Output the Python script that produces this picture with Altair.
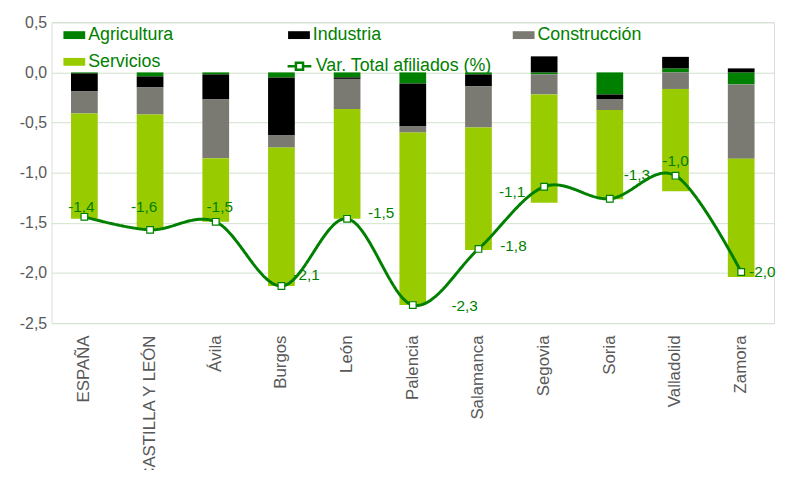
import altair as alt
import pandas as pd

categorias = ["ESPAÑA", "CASTILLA Y LEÓN", "Ávila", "Burgos", "León", "Palencia",
              "Salamanca", "Segovia", "Soria", "Valladolid", "Zamora"]
agricultura = [-0.01, -0.04, -0.02, -0.05, -0.05, -0.11, -0.02, -0.02, -0.22, 0.04, -0.12]
industria = [-0.18, -0.11, -0.25, -0.58, -0.015, -0.43, -0.12, 0.16, -0.045, 0.115, 0.04]
construccion = [-0.22, -0.27, -0.585, -0.12, -0.30, -0.06, -0.41, -0.20, -0.11, -0.165, -0.74]
servicios = [-1.05, -1.15, -0.635, -1.38, -1.095, -1.72, -1.22, -1.08, -0.89, -1.02, -1.18]
total = [-1.44, -1.57, -1.49, -2.13, -1.46, -2.32, -1.76, -1.14, -1.26, -1.03, -1.99]

sectores = ["Agricultura", "Industria", "Construcción", "Servicios"]
colores = ["#008000", "#000000", "#7A7A72", "#99CC00"]
serie_total = "Var. Total afiliados (%)"

rows = []
for i, c in enumerate(categorias):
    for k, (s, vals) in enumerate(zip(sectores, [agricultura, industria, construccion, servicios])):
        rows.append({"categoria": c, "sector": s, "orden": k, "valor": vals[i]})
df_bars = pd.DataFrame(rows)
df_line = pd.DataFrame({"categoria": categorias, "total": total, "serie": serie_total})

FONT = "Liberation Sans"
GREEN = "#008000"

x_enc = alt.X("categoria:N", sort=categorias, title=None,
              scale=alt.Scale(paddingInner=0, paddingOuter=0),
              axis=alt.Axis(labelAngle=-90, labelFontSize=17, labelColor="#595959",
                            labelFont=FONT, ticks=False, domain=False, labelPadding=12,
                            grid=False))
y_scale = alt.Scale(domain=[-2.5, 0.5], nice=False, zero=False)

bars = alt.Chart(df_bars).mark_bar(size=27).encode(
    x=x_enc,
    y=alt.Y("valor:Q", stack="zero", scale=y_scale, title=None,
            axis=alt.Axis(values=[0.5, 0, -0.5, -1, -1.5, -2, -2.5],
                          labelExpr="(datum.value < 0 ? '-' : '') + replace(format(abs(datum.value), '.1f'), '.', ',')",
                          labelFontSize=16, labelColor="#595959", labelFont=FONT,
                          ticks=False, domain=False, labelPadding=5,
                          gridColor="#CFE3CB", gridWidth=1)),
    color=alt.Color("sector:N",
                    scale=alt.Scale(domain=sectores, range=colores),
                    legend=alt.Legend(title=None, orient="none", legendX=12, legendY=2,
                                      direction="horizontal",
                                      columns=3, gridAlign="all", columnPadding=96,
                                      rowPadding=7,
                                      symbolType="M-1,-0.36L1,-0.36L1,0.36L-1,0.36Z",
                                      symbolSize=484, symbolStrokeWidth=0,
                                      labelFontSize=18, labelColor=GREEN, labelFont=FONT,
                                      labelOffset=3, labelLimit=400, padding=0)),
    order=alt.Order("orden:Q", sort="ascending"),
)

line = alt.Chart(df_line).mark_line(color=GREEN, strokeWidth=3, interpolate="cardinal").encode(
    x=alt.X("categoria:N", sort=categorias),
    y=alt.Y("total:Q", scale=y_scale),
    strokeDash=alt.StrokeDash("serie:N", scale=alt.Scale(domain=[serie_total], range=[[1, 0]]),
                              legend=alt.Legend(title=None, orient="none", legendX=237, legendY=31,
                                                symbolType="M-1,0L-0.32,0M0.32,0L1,0M-0.3,-0.3L0.3,-0.3L0.3,0.3L-0.3,0.3Z",
                                                symbolSize=576, symbolStrokeColor=GREEN,
                                                symbolFillColor="white", symbolStrokeWidth=2.5,
                                                labelFontSize=18, labelColor=GREEN, labelFont=FONT,
                                                labelOffset=3, labelLimit=400, padding=0)),
)

points = alt.Chart(df_line).mark_point(shape="square", filled=True, fill="white", stroke=GREEN,
                                      strokeWidth=1.2, size=45, opacity=1).encode(
    x=alt.X("categoria:N", sort=categorias),
    y=alt.Y("total:Q", scale=y_scale),
)

# label placement (dx, dy, align) per category
offsets = {
    "ESPAÑA": (-3, -10, "center"),
    "CASTILLA Y LEÓN": (-6, -23, "center"),
    "Ávila": (4, -15, "center"),
    "Burgos": (12, -11, "left"),
    "León": (21, -6, "left"),
    "Palencia": (39, 1, "left"),
    "Salamanca": (22, -3, "left"),
    "Segovia": (-19, 5, "right"),
    "Soria": (14, -24, "left"),
    "Valladolid": (0, -15, "center"),
    "Zamora": (8, 0, "left"),
}

texts = []
for cat, (dx, dy, al) in offsets.items():
    t = alt.Chart(df_line).transform_filter(
        alt.datum.categoria == cat
    ).transform_calculate(
        etiqueta="(datum.total < 0 ? '-' : '') + replace(format(abs(datum.total), '.1f'), '.', ',')"
    ).mark_text(dx=dx, dy=dy, align=al, baseline="middle", fontSize=15.5, font=FONT,
                color=GREEN).encode(
        x=alt.X("categoria:N", sort=categorias),
        y=alt.Y("total:Q", scale=y_scale),
        text="etiqueta:N",
    )
    texts.append(t)

chart = alt.layer(bars, line, points, *texts).resolve_scale(
    color="independent", strokeDash="independent"
).properties(
    width=730, height=304,
    autosize="none",
    padding={"left": 44, "top": 12, "right": 3, "bottom": 146},
).configure_view(stroke=None).configure(font=FONT)

chart.save("out.html", embed_options={"renderer": "svg", "actions": False})
